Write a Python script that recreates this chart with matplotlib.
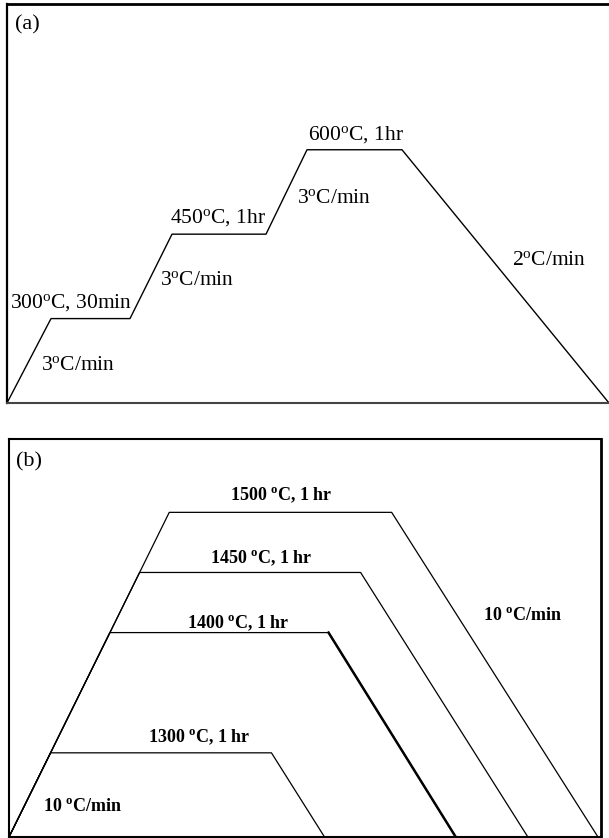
import matplotlib
matplotlib.use('Agg')
import matplotlib.pyplot as plt

plt.rcParams['font.family'] = ['Liberation Serif', 'DejaVu Serif']
plt.rcParams['mathtext.fontset'] = 'custom'
plt.rcParams['mathtext.rm'] = 'Liberation Serif'
plt.rcParams['mathtext.it'] = 'Liberation Serif:italic'
plt.rcParams['mathtext.bf'] = 'Liberation Serif:bold'

# (a) low temperature debinding schedule (schematic time axis)
a_time = [0, 44, 123, 165, 259, 300, 395, 602]
a_temp = [150, 300, 300, 450, 450, 600, 600, 150]

# (b) sintering schedules, one per hold temperature
b_hold = [1500, 1450, 1400, 1300]
b_base = 1230
b_time = [
    [0, 160, 382, 588],
    [0, 130.4, 351, 518],
    [0, 100.7, 319, 446],
    [0, 41.5, 262, 315],
]
b_temp = [[b_base, t, t, b_base] for t in b_hold]

deg = r'$^{\mathrm{o}}$'
degb = r'$^{\mathbf{o}}$'

fig = plt.figure(figsize=(6.09, 8.38), dpi=100)

# ---- panel (a)
ax1 = fig.add_axes([7 / 609, 1 - 403 / 838, 602 / 609, 399 / 838])
ax1.plot(a_time, a_temp, color='black', lw=1.0)
ax1.set_xlim(0, 602)
ax1.set_ylim(150, 859)
ax1.set_xticks([])
ax1.set_yticks([])
ax1.spines['right'].set_visible(False)
ax1.spines['top'].set_linewidth(2.0)
ax1.spines['left'].set_linewidth(1.6)
ax1.spines['bottom'].set_linewidth(1.5)
ax1.spines['bottom'].set_color('#444444')

fs = 15.5
ax1.text(8, 822, '(a)', fontsize=16, va='center')
ax1.text(3, 329, '300' + deg + 'C, 30min', fontsize=fs, va='center')
ax1.text(34, 216, '3' + deg + 'C/min', fontsize=fs, va='center')
ax1.text(153, 368, '3' + deg + 'C/min', fontsize=fs, va='center')
ax1.text(163, 479, '450' + deg + 'C, 1hr', fontsize=fs, va='center')
ax1.text(290, 514, '3' + deg + 'C/min', fontsize=fs, va='center')
ax1.text(301, 627, '600' + deg + 'C, 1hr', fontsize=fs, va='center')
ax1.text(505, 403, '2' + deg + 'C/min', fontsize=fs, va='center')

# ---- panel (b)
ax2 = fig.add_axes([9 / 609, 1 - 837 / 838, 592 / 609, 398 / 838])
for t, T in zip(b_time, b_temp):
    ax2.plot(t, T, color='black', lw=0.9)
# the 1400 cooling segment is drawn heavier
ax2.plot(b_time[2][2:], b_temp[2][2:], color='black', lw=1.8)
ax2.set_xlim(0, 591)
ax2.set_ylim(b_base, 1561)
ax2.set_xticks([])
ax2.set_yticks([])
ax2.spines['top'].set_linewidth(1.5)
ax2.spines['right'].set_linewidth(2.0)
ax2.spines['left'].set_linewidth(1.5)
ax2.spines['bottom'].set_linewidth(1.5)

fb = 13
ax2.text(7, 1542, '(b)', fontsize=16, va='center')
label_x = [272, 252, 229, 190]
label_dy = [14, 12, 8, 13]
for T, x, dy in zip(b_hold, label_x, label_dy):
    ax2.text(x, T + dy, str(T) + ' ' + degb + 'C, 1 hr', fontsize=fb,
             fontweight='bold', ha='center', va='center')
ax2.text(34, 1255, '10 ' + degb + 'C/min', fontsize=fb, fontweight='bold', va='center')
ax2.text(473, 1414, '10 ' + degb + 'C/min', fontsize=fb, fontweight='bold', va='center')

fig.savefig('out.png', dpi=100)
